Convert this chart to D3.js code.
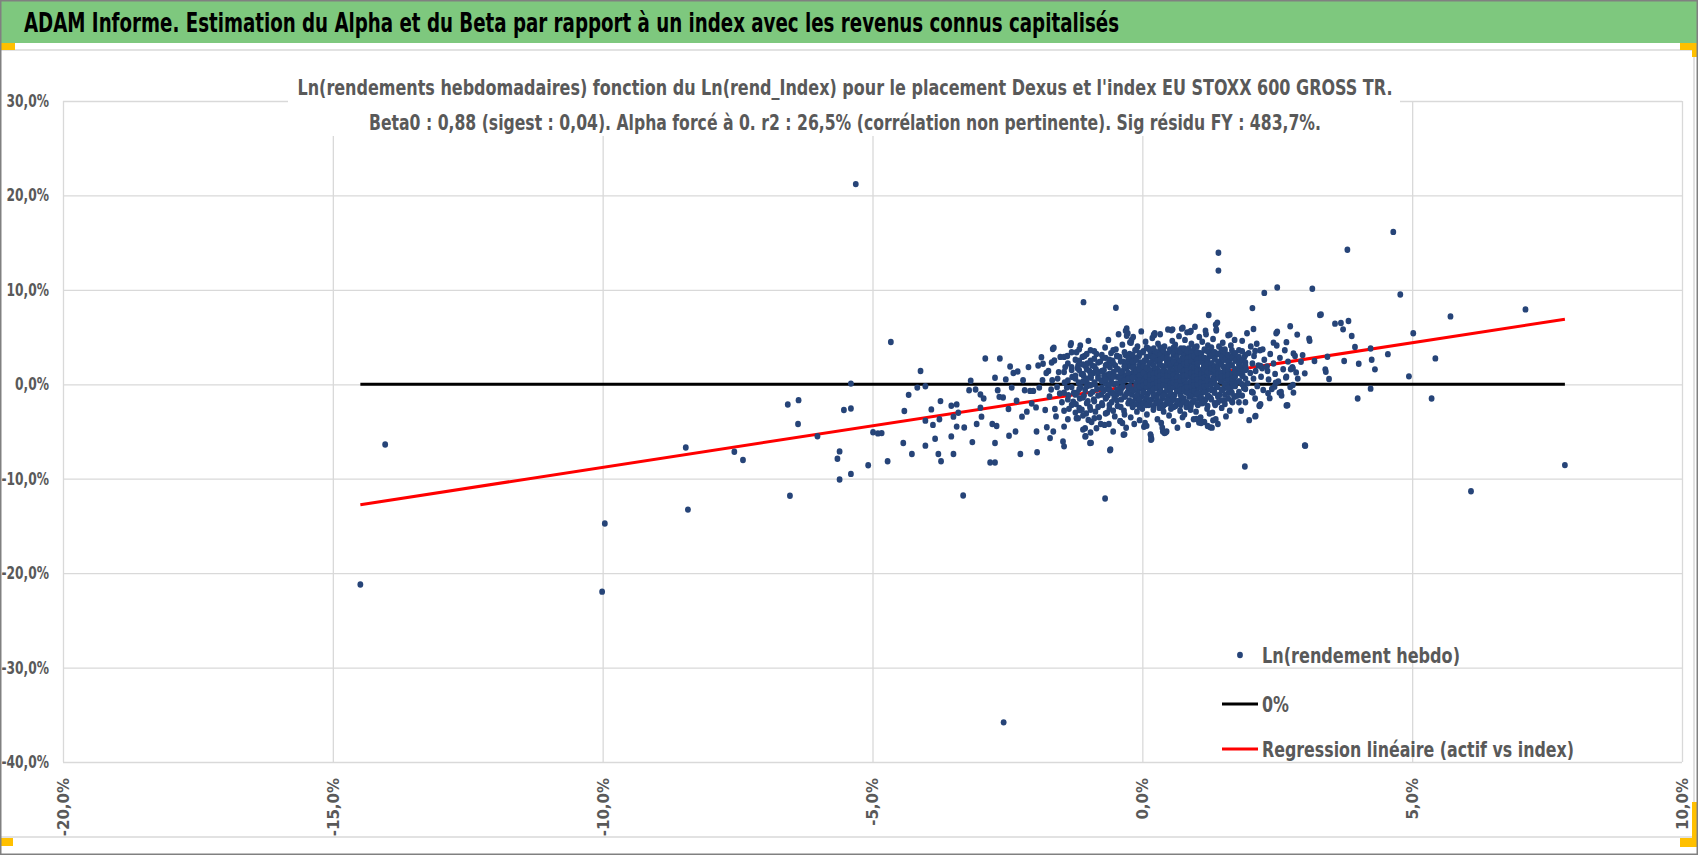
<!DOCTYPE html>
<html>
<head>
<meta charset="utf-8">
<script src="https://cdn.jsdelivr.net/npm/d3@7"></script>
<style>
  body { margin: 0; background: #fff; }
  svg { display: block; font-family: "DejaVu Sans Condensed", "Liberation Sans Narrow", sans-serif; }
</style>
</head>
<body>
<svg width="1698" height="855"></svg>
<script>
// textes
const mainTitle = "ADAM Informe. Estimation du Alpha et du Beta par rapport à un index avec les revenus connus capitalisés";
const chartTitle = [
  "Ln(rendements hebdomadaires) fonction du Ln(rend_Index) pour le placement Dexus et l'index EU STOXX 600 GROSS TR.",
  "Beta0 : 0,88 (sigest : 0,04). Alpha forcé à 0. r2 : 26,5% (corrélation non pertinente). Sig résidu FY : 483,7%."
];
const legendLabels = ["Ln(rendement hebdo)", "0%", "Regression linéaire (actif vs index)"];

// axes (en %)
const xTicks = [-20, -15, -10, -5, 0, 5, 10];
const yTicks = [30, 20, 10, 0, -10, -20, -30, -40];

// droites : 0% et regression (beta 0,88, alpha 0)
const zeroLine = [[-14.49, 0], [7.83, 0]];
const regressionLine = [[-14.49, -12.75], [7.83, 6.89]];

// points : [rend index %, rend placement %]
const leftTail = [
  [-14.49,-21.2],[-14.03,-6.37],[-10.01,-21.96],[-9.96,-14.75],[-8.46,-6.69],[-8.42,-13.27],[-7.56,-7.15],[-7.40,-8.02],
  [-6.57,-2.14],[-6.37,-1.68],[-6.38,-4.20],[-6.53,-11.8],[-6.02,-5.5],[-5.53,-2.73],[-5.40,-2.56],[-5.40,0.07],
  [-5.61,-7.11],[-5.65,-7.88],[-5.61,-10.09],[-5.40,-9.49],[-5.08,-8.58],[-4.99,-5.08],[-4.90,-5.20],[-4.83,-5.17],
  [-5.31,21.2],[-2.57,-35.8],
  [-4.66,4.48],[-4.72,-8.15],[-4.43,-6.22],[-4.41,-2.83],[-4.33,-1.12],[-4.27,-7.38],[-4.17,-0.35],[-4.11,1.40],
  [-4.02,-0.21],[-4.02,-6.50],[-4.02,-3.85],[-3.91,-2.66],[-3.88,-4.30],[-3.84,-5.77],[-3.78,-7.38],[-3.76,-3.71],
  [-3.74,-1.78],[-3.73,-8.15],[-3.54,-2.27],[-3.54,-5.52],[-3.50,-7.38],[-3.50,-3.43],[-3.44,-2.13],[-3.41,-3.01],
  [-3.44,-4.48],[-3.30,-4.58],[-3.32,-11.78],[-3.21,-0.63],[-3.18,0.38],[-3.15,-6.12],[-3.09,-0.56],[-3.07,-4.20],
  [-3.00,-1.08],[-3.00,-2.48],[-2.98,-3.43],[-2.94,-1.50],[-2.91,2.73],[-2.82,-8.29],[-2.73,-8.29],[-2.78,-4.20],
  [-2.70,-4.41],[-2.73,-6.22],[-2.73,0.70],[-2.68,-0.63],[-2.65,-1.33],[-2.64,2.73],[-2.58,-1.40],[-2.53,0.52],
  [-2.48,-2.62],[-2.47,-5.45],[-2.45,1.89],[-2.42,-0.35],[-2.39,1.19],[-2.35,-5.00],[-2.33,-1.75],[-2.31,1.36],
  [-2.26,-7.38],[-2.23,-3.43],[-2.21,0.42],[-2.18,-0.63],[-2.14,-2.90],[-2.11,1.82],[-2.08,-0.70],[-2.05,-2.03],
  [-2.02,-0.70],[-1.97,-2.45],[-1.96,-5.00],[-1.95,-7.20],[-1.93,1.99],[-1.91,-0.35],[-1.87,2.87],[-1.85,0.42],
  [-1.84,2.17],[-1.80,-2.73],[-1.77,-4.55],[-1.74,1.40],[-1.71,-5.70],[-1.69,-0.56],[-1.67,0.42],[-1.66,3.74],
  [-1.65,-5.00],[-1.63,2.52],[-1.62,-2.62],[-1.58,-0.28],[-1.55,1.29],[-1.53,-0.98],[-1.47,-6.05],[-1.45,-6.57],
  [-1.45,-4.48],[-1.43,1.82],[-1.40,-0.35],[-1.37,-1.15],[-1.33,4.16],[-1.30,0.77],[-1.28,-1.85],[-1.22,-3.60],
  [-1.19,1.99],[-1.16,-2.73],[-1.09,8.7],[-1.06,-4.65],[-1.06,-5.52],[-1.00,-3.78],[-0.97,-6.22],[-0.85,-4.65],
  [-0.60,-6.99],[-0.69,-12.1],[-0.49,8.1],[-0.35,-5.35],[-0.31,5.66],[-0.29,5.14],[-0.23,4.44],
  [-1.32,4.34],[-1.64,3.88],[-0.96,-5.1],[-1.05,-5.5],[-0.95,-6.2],[-0.77,-4.2],[-0.62,-4.2],[-0.59,-6.9],
  [-0.41,-3.9],[-0.37,-4.1],[-0.33,-5.3],[-0.29,5.9],[-0.27,5.4],[-0.2,4.7]
];

const core = [
  [-1.78,1.2],[-1.72,-1.3],[-1.68,2.3],[-1.6,-3.4],[-1.57,0.6],[-1.52,2.9],[-1.49,-1.9],[-1.44,0.2],[-1.39,3.0],[-1.36,-2.6],[-1.31,1.5],[-1.27,-0.9],
  [-1.24,0.6],[-1.23,-2.1],[-1.22,3.4],[-1.21,-0.9],[-1.2,1.7],[-1.19,-3.6],[-1.18,0.2],[-1.17,2.5],[-1.16,-1.5],[-1.15,4.1],
  [-1.14,-0.3],[-1.13,1.1],[-1.12,-2.7],[-1.11,2.9],[-1.1,-4.8],[-1.09,0.9],[-1.08,-1.2],[-1.07,3.0],[-1.06,-0.6],[-1.05,1.9],
  [-1.04,-3.1],[-1.03,0.3],[-1.02,2.2],[-1.01,-1.8],[-1.0,4.6],[-0.99,-0.1],[-0.98,1.4],[-0.97,-2.4],[-0.96,3.6],[-0.95,0.7],
  [-0.94,-4.0],[-0.93,2.0],[-0.92,-0.8],[-0.91,1.2],[-0.9,-1.6],[-0.89,2.7],[-0.88,0.0],[-0.87,-2.9],[-0.86,1.6],[-0.85,3.2],
  [-0.84,-0.5],[-0.82,0.9],[-0.8,-3.5],[-0.78,2.4],[-0.76,-1.1],
  [-0.75,0.4],[-0.74,-2.2],[-0.73,2.8],[-0.72,-0.7],[-0.71,1.5],[-0.7,-4.3],[-0.69,3.9],[-0.68,0.1],[-0.67,-1.4],[-0.66,2.1],
  [-0.65,-3.0],[-0.64,1.0],[-0.63,4.7],[-0.62,-0.3],[-0.61,-2.6],[-0.6,1.8],[-0.59,0.6],[-0.58,3.3],[-0.57,-1.9],[-0.56,-0.9],
  [-0.55,2.5],[-0.54,-5.0],[-0.53,1.3],[-0.52,0.0],[-0.51,-3.4],[-0.5,2.0],[-0.49,3.7],[-0.48,-1.1],[-0.47,0.8],[-0.46,-2.3],
  [-0.45,1.6],[-0.44,5.3],[-0.43,-0.5],[-0.42,2.9],[-0.41,-3.9],[-0.4,0.3],[-0.39,-1.6],[-0.38,1.1],[-0.37,4.2],[-0.36,-0.2],
  [-0.35,2.4],[-0.34,-2.8],[-0.33,0.9],[-0.32,-1.3],[-0.31,3.1],[-0.3,-4.6],[-0.29,1.7],[-0.28,0.5],[-0.27,-0.8],[-0.26,2.2],
  [-0.255,-2.0],[-0.71,0.9],[-0.66,-0.5],[-0.61,2.4],[-0.57,0.2],[-0.52,-1.5],[-0.47,3.0],[-0.42,0.7],[-0.38,-0.4],[-0.33,1.9],
  [-0.29,-1.0],[-0.64,-1.2],[-0.55,1.1],[-0.45,-0.9],[-0.36,1.4],
  [-0.25,0.8],[-0.24,-1.7],[-0.235,3.2],[-0.23,-0.2],[-0.22,1.9],[-0.215,-3.5],[-0.21,4.4],[-0.2,0.4],[-0.195,-1.1],[-0.19,2.6],
  [-0.18,-2.4],[-0.175,1.2],[-0.17,5.0],[-0.16,-0.6],[-0.155,2.1],[-0.15,-4.2],[-0.14,0.9],[-0.135,3.6],[-0.13,-1.5],[-0.12,1.6],
  [-0.115,-0.1],[-0.11,2.8],[-0.1,-2.9],[-0.095,0.5],[-0.09,4.0],[-0.08,-0.9],[-0.075,1.3],[-0.07,-2.0],[-0.06,3.0],[-0.055,0.1],
  [-0.05,-3.8],[-0.04,2.3],[-0.035,-0.4],[-0.03,1.0],[-0.02,5.6],[-0.015,-1.3],[-0.01,2.0],[0.0,-2.6],[0.005,0.7],[0.01,3.4],
  [0.02,-0.7],[0.025,1.5],[0.03,-4.5],[0.04,2.5],[0.045,0.2],[0.05,-1.8],[0.06,4.5],[0.065,1.1],[0.07,-0.3],[0.08,2.9],
  [0.085,-3.2],[0.09,0.6],[0.1,1.8],[0.105,-1.0],[0.11,3.8],[0.12,-2.2],[0.125,0.9],[0.13,2.2],[0.14,-0.5],[0.145,1.4],
  [0.15,-5.3],[0.16,3.1],[0.165,0.0],[0.17,-1.6],[0.18,2.4],[0.185,4.9],[0.19,-0.8],[0.2,1.2],[0.205,-2.7],[0.21,0.4],
  [0.22,3.5],[0.225,-1.2],[0.23,1.7],[0.24,-0.1],[0.245,2.7],
  [0.25,0.9],[0.255,-1.9],[0.26,3.0],[0.27,-0.3],[0.275,1.6],[0.28,-3.7],[0.29,4.3],[0.295,0.4],[0.3,-1.0],[0.31,2.2],
  [0.315,-2.5],[0.32,1.1],[0.33,5.3],[0.335,-0.6],[0.34,2.7],[0.35,-4.1],[0.355,0.8],[0.36,3.5],[0.37,-1.5],[0.375,1.9],
  [0.38,0.0],[0.39,2.9],[0.395,-2.9],[0.4,0.6],[0.41,4.0],[0.415,-0.9],[0.42,1.4],[0.43,-2.1],[0.435,3.2],[0.44,0.2],
  [0.45,-5.0],[0.455,2.4],[0.46,-0.4],[0.47,1.2],[0.475,5.8],[0.48,-1.3],[0.49,2.0],[0.495,-3.3],[0.5,0.7],[0.51,3.7],
  [0.515,-0.7],[0.52,1.6],[0.53,-2.6],[0.535,2.6],[0.54,0.3],[0.55,-1.7],[0.555,4.6],[0.56,1.0],[0.57,-0.2],[0.575,3.1],
  [0.58,-3.9],[0.59,0.5],[0.595,2.1],[0.6,-1.1],[0.61,4.2],[0.615,-2.3],[0.62,1.3],[0.63,2.5],[0.635,-0.5],[0.64,1.7],
  [0.65,-4.6],[0.655,3.3],[0.66,0.1],[0.67,-1.8],[0.675,2.3],[0.68,5.1],[0.69,-0.8],[0.695,1.5],[0.7,-2.8],[0.71,0.6],
  [0.715,3.8],[0.72,-1.4],[0.73,1.9],[0.735,0.0],[0.74,2.8],[0.745,-3.5],
  [0.75,1.1],[0.755,-1.6],[0.76,3.4],[0.77,-0.1],[0.775,2.0],[0.78,-3.2],[0.79,4.7],[0.795,0.6],[0.8,-0.8],[0.81,2.6],
  [0.815,-2.4],[0.82,1.3],[0.83,5.5],[0.835,-0.4],[0.84,3.0],[0.85,-4.3],[0.855,1.0],[0.86,3.8],[0.87,-1.3],[0.875,2.2],
  [0.88,0.2],[0.89,3.2],[0.895,-2.7],[0.9,0.8],[0.91,4.3],[0.915,-0.7],[0.92,1.6],[0.93,-1.9],[0.935,3.5],[0.94,0.4],
  [0.95,-3.7],[0.955,2.7],[0.96,-0.2],[0.97,1.4],[0.975,6.1],[0.98,-1.1],[0.99,2.3],[0.995,-2.9],[1.0,0.9],[1.01,4.0],
  [1.015,-0.5],[1.02,1.8],[1.03,-2.2],[1.035,2.9],[1.04,0.5],[1.05,-1.5],[1.055,5.0],[1.06,1.2],[1.07,0.0],[1.075,3.3],
  [1.08,-3.5],[1.09,0.7],[1.095,2.4],[1.1,-0.9],[1.11,4.5],[1.115,-2.0],[1.12,1.5],[1.13,2.8],[1.135,-0.3],[1.14,1.9],
  [1.15,-4.0],[1.155,3.6],[1.16,0.3],[1.17,-1.6],[1.175,2.5],[1.18,5.3],[1.19,-0.6],[1.195,1.7],[1.2,-2.6],[1.21,0.8],
  [1.215,4.1],[1.22,-1.2],[1.23,2.1],[1.235,0.1],[1.24,3.0],[1.245,-3.1],
  [1.25,1.3],[1.26,-1.4],[1.27,3.5],[1.28,0.1],[1.29,2.2],[1.3,-3.0],[1.31,4.8],[1.32,0.7],[1.33,-0.6],[1.34,2.8],
  [1.35,-2.2],[1.36,1.5],[1.37,5.7],[1.38,-0.2],[1.39,3.2],[1.4,-4.2],[1.41,1.1],[1.42,4.0],[1.43,-1.1],[1.44,2.4],
  [1.45,0.4],[1.46,3.4],[1.47,-2.5],[1.48,1.0],[1.49,4.4],[1.5,-0.5],[1.51,1.8],[1.52,-1.7],[1.53,3.7],[1.54,0.6],
  [1.55,-3.4],[1.56,2.9],[1.57,0.0],[1.58,1.6],[1.59,5.2],[1.6,-0.9],[1.61,2.5],[1.62,-2.8],[1.63,1.1],[1.64,4.1],
  [1.65,-0.3],[1.66,2.0],[1.67,-1.9],[1.68,3.1],[1.69,0.7],[1.7,-1.3],[1.71,4.7],[1.72,1.4],[1.73,0.2],[1.74,2.7],
  [1.76,1.5],[1.77,-1.2],[1.79,3.6],[1.8,0.3],[1.82,2.4],[1.83,-2.8],[1.85,4.6],[1.86,0.9],[1.88,-0.4],[1.89,2.9],
  [1.91,-1.9],[1.92,1.6],[1.94,5.4],[1.95,0.1],[1.97,3.3],[1.98,-3.8],[2.0,1.2],[2.01,4.0],[2.03,-0.8],[2.04,2.2],
  [2.06,0.6],[2.07,3.0],[2.09,-1.5],[2.1,1.4],[2.12,4.3],[2.13,-0.2],[2.15,2.0],[2.17,-2.3],[2.18,3.6],[2.2,0.8],
  [2.22,1.7],[2.24,-0.6],[2.26,2.6],
  [2.31,1.9],[2.34,0.5],[2.37,3.2],[2.4,-0.5],[2.43,2.2],[2.46,1.1],[2.49,4.1],[2.52,0.3],[2.55,2.8],[2.58,-1.2],
  [2.61,1.6],[2.64,3.6],[2.67,0.8],[2.7,2.4],[2.74,-0.3],[2.78,1.8],[2.83,3.0],[2.88,0.6]
];

// colonnes du noyau dense : [rend index %, [rend placement %...]]
const denseCols = [
  [-1.45,[-2.8,-0.9,1.3,2.9]], [-1.38,[-1.6,0.4,2.2,-3.7]], [-1.31,[-2.2,-0.3,1.8,3.4]], [-1.24,[-1.1,0.9,2.6,-3.0]],
  [-1.17,[-2.5,-0.5,1.5,3.7]], [-1.1,[-1.4,0.3,2.1,-3.3,1.1]], [-1.03,[-2.0,-0.2,1.6,3.2,0.6]], [-0.96,[-1.0,0.9,2.5,-2.7,-0.1]],
  [-0.89,[-1.8,0.2,1.9,3.5,-3.6]], [-0.82,[-1.2,0.6,2.3,-2.4,1.3]], [-0.75,[-2.0,-0.4,1.4,3.1,0.3]], [-0.68,[-1.5,0.5,2.0,-3.1,2.8]],
  [-0.61,[-2.2,-0.6,1.1,2.6,0.0]], [-0.54,[-1.0,0.8,2.2,3.6,-2.8]], [-0.47,[-1.7,0.1,1.6,3.0,-0.6]], [-0.4,[-2.4,-0.9,0.7,2.4,1.3]],
  [-0.33,[-1.3,0.4,1.9,3.4,-3.2]], [-0.26,[-2.0,-0.3,1.2,2.7,0.6]],
  [-0.18,[-1.9,-0.6,0.7,1.8,3.1,-2.3,2.4]], [-0.11,[-1.2,0.1,1.4,2.6,3.7,-2.1,-0.4]], [-0.05,[-1.6,-0.2,0.9,2.0,3.3,1.6,-2.4,0.4]],
  [0.02,[-2.0,-0.9,0.3,1.2,2.3,3.5,1.9,-0.1]], [0.08,[-1.4,-0.3,0.8,1.7,2.7,3.9,-2.2,0.2]], [0.14,[-1.8,-0.7,0.5,1.5,2.2,3.0,-0.1,1.0,3.6]],
  [0.21,[-2.3,-1.1,0.0,1.1,2.0,2.9,3.8,0.6,-0.5]], [0.27,[-1.5,-0.4,0.7,1.6,2.5,3.4,-2.0,1.2,0.2]], [0.33,[-1.9,-0.8,0.3,1.3,2.1,3.1,3.9,-0.2,0.9,2.6]],
  [0.39,[-1.2,-0.1,1.0,1.9,2.8,3.6,-2.3,0.5,1.5]], [0.46,[-1.7,-0.6,0.4,1.2,2.3,3.2,-0.2,0.9,2.0,2.8]], [0.52,[-2.1,-1.0,0.1,0.9,1.8,2.6,3.5,-0.4,1.4,2.2]],
  [0.58,[-1.4,-0.3,0.6,1.5,2.4,3.3,3.9,-2.4,1.0,0.2]], [0.64,[-1.8,-0.7,0.2,1.2,2.0,2.9,-0.1,1.7,3.6,0.8]], [0.71,[-2.2,-1.1,-0.2,0.8,1.6,2.5,3.4,0.4,1.9,-0.6]],
  [0.77,[-1.5,-0.5,0.5,1.4,2.2,3.0,3.8,0.9,-1.9,2.7]], [0.83,[-1.9,-0.9,0.1,1.0,1.9,2.7,3.5,-0.3,1.5,2.3]], [0.9,[-1.3,-0.2,0.7,1.6,2.5,3.3,-2.3,0.3,1.2,2.9]],
  [0.96,[-1.7,-0.7,0.3,1.2,2.1,3.0,3.9,-0.1,0.8,1.8]], [1.02,[-2.1,-1.0,0.0,0.9,1.7,2.6,3.4,0.5,1.4,2.2]], [1.09,[-1.4,-0.4,0.6,1.5,2.4,3.2,-2.0,0.2,1.1,2.8]],
  [1.15,[-1.8,-0.8,0.2,1.1,2.0,2.8,3.7,0.7,1.6,-0.2]], [1.21,[-1.2,-0.1,0.9,1.8,2.6,3.5,-2.3,0.4,1.3,2.2]], [1.28,[-1.6,-0.6,0.4,1.3,2.2,3.0,3.9,0.0,1.7]],
  [1.34,[-2.0,-0.9,0.1,1.0,1.9,2.7,3.4,0.6,1.5]], [1.4,[-1.3,-0.3,0.7,1.6,2.4,3.2,-1.9,1.1,2.0]], [1.47,[-1.7,-0.6,0.3,1.2,2.1,2.9,3.7,0.8]],
  [1.53,[-1.1,0.0,0.9,1.8,2.6,3.4,-2.1,1.4]], [1.59,[-1.5,-0.4,0.5,1.4,2.3,3.1,1.0,1.9]], [1.66,[-0.9,0.2,1.1,2.0,2.8,3.6,0.6,-1.8]],
  [1.72,[-1.3,-0.2,0.8,1.6,2.5,3.3,1.3]], [1.79,[-0.8,0.3,1.2,2.1,2.9,1.7,-1.9]], [1.85,[-1.2,0.0,0.9,1.8,2.6,3.5,1.4]],
  [1.91,[-0.5,0.6,1.5,2.3,3.1,2.0]]
];

const rightTail = [
  [1.41,13.93],[1.41,12.04],[3.80,14.25],[4.65,16.14],[4.78,9.51],[3.15,10.11],[2.50,10.25],[2.26,9.68],[2.04,8.07],
  [1.23,7.33],[3.29,7.33],[3.57,6.42],[3.68,6.49],[3.82,6.70],[3.72,5.82],[3.88,5.12],[3.94,3.96],[4.23,3.79],[4.55,3.19],
  [5.02,5.40],[5.71,7.19],[7.10,7.93],[5.43,2.74],[4.25,2.60],[4.31,1.58],[4.01,2.18],[3.74,2.46],[3.43,2.91],[3.39,1.58],
  [3.40,1.33],[3.46,0.56],[3.19,2.46],[3.09,4.84],[3.10,4.6],[3.01,1.16],[4.23,-0.46],[3.99,-1.51],[4.94,0.84],[5.36,-1.51],
  [3.01,-6.49],[1.90,-8.70],[6.09,-11.33],[7.83,-8.56],[2.87,5.26],[2.74,6.14],[2.48,5.40],[2.67,4.46],[2.80,3.26],
  [2.97,3.09],[2.94,2.39],[2.79,1.68],[2.85,1.26],[2.79,-0.07],[2.80,-0.88],[2.67,-2.25],[2.54,-0.88],[2.45,-0.25],
  [2.36,-1.47],[2.33,-0.95],[2.17,-2.25],[2.09,-3.40],[2.05,-0.88],[2.06,5.86],[1.62,5.26],[1.36,6.32],[1.17,5.68],
  [0.88,5.54],[0.73,5.89],[0.54,5.72],[0.21,5.26],[1.26,-4.56],[1.31,-3.82],[1.09,-4.1],[1.07,-3.75],[1.00,-3.68],
  [0.41,-5.16],[0.38,-5.0],[0.16,-5.5],[0.05,-4.1],[0.08,-4.4],[0.17,-5.8],[0.37,-4.6],[0.22,5.2],[0.16,-5.87],[0.23,5.4],
  [2.09,3.53],[2.23,3.70],[2.19,1.94],[2.32,1.41],[2.47,0.18],[2.57,-0.81],[2.66,0.71],[2.75,1.59],[2.69,-2.22],
  [2.43,4.41],[2.50,5.57],[2.10,-3.35],[2.19,-2.12],[2.03,-0.81],[1.39,6.53],[1.37,5.82],[0.56,5.82],[0.75,6.0],
  [0.90,5.64],[1.21,-4.41],[1.36,-3.70],[1.29,-4.59],[1.05,-4.06],[0.43,-5.11],[3.31,7.39],[3.02,-6.5]
];

const points = leftTail
  .concat(core, rightTail)
  .concat(denseCols.flatMap(c => c[1].map(v => [c[0], v])));

// mise en page
const W = 1698, H = 855;
const plot = { left: 63, right: 1682, top: 101, bottom: 762 };
const grey = "#595959";

const svg = d3.select("svg");
const fr = d3.formatLocale({ decimal: ",", thousands: " ", grouping: [3], currency: ["", " €"], minus: "-" });
const pct = d => fr.format(".1f")(d) + "%";

const x = d3.scaleLinear().domain([-20, 10]).range([plot.left, plot.right]);
const y = d3.scaleLinear().domain([-40, 30]).range([plot.bottom, plot.top]);

// resserre un texte (police etroite type Calibri)
function narrow(sel, k) {
  sel.each(function () {
    const w = this.getComputedTextLength();
    d3.select(this).attr("textLength", w * k).attr("lengthAdjust", "spacingAndGlyphs");
  });
}

// fond + bandeau vert
svg.append("rect").attr("width", W).attr("height", H).attr("fill", "#fff");
svg.append("rect").attr("x", 0).attr("y", 0).attr("width", W).attr("height", 43).attr("fill", "#7ec87e");
svg.append("text")
    .attr("x", 24).attr("y", 32)
    .attr("font-size", 27).attr("font-weight", "bold").attr("fill", "#000")
    .attr("textLength", 1095).attr("lengthAdjust", "spacingAndGlyphs")
    .text(mainTitle);

// cadre du graphique
svg.append("path")
    .attr("d", `M0,50 H1694 V837 H0`)
    .attr("fill", "none").attr("stroke", "#d9d9d9").attr("stroke-width", 1.5);

// grille horizontale + etiquettes Y
const yAxis = svg.append("g")
    .attr("transform", `translate(${plot.left},0)`)
    .call(d3.axisLeft(y).tickValues(yTicks).tickSize(-(plot.right - plot.left)).tickPadding(14).tickFormat(pct));
yAxis.select(".domain").remove();
yAxis.selectAll("line").attr("stroke", "#d9d9d9").attr("stroke-width", 1.3);
yAxis.selectAll("text")
    .attr("fill", grey).attr("font-size", 17).attr("font-weight", "bold")
    .attr("font-family", "'DejaVu Sans Condensed',sans-serif")
    .call(narrow, 0.8);

// grille verticale + etiquettes X (tournees)
const xAxis = svg.append("g")
    .attr("transform", `translate(0,${plot.bottom})`)
    .call(d3.axisBottom(x).tickValues(xTicks).tickSize(-(plot.bottom - plot.top)).tickFormat(pct));
xAxis.select(".domain").remove();
xAxis.selectAll("line").attr("stroke", "#d9d9d9").attr("stroke-width", 1.3);
xAxis.selectAll("text")
    .attr("transform", "rotate(-90)")
    .attr("x", -16).attr("y", 0).attr("dy", "0.36em")
    .style("text-anchor", "end")
    .attr("fill", grey).attr("font-size", 15).attr("font-weight", "bold")
    .attr("font-family", "'DejaVu Sans',sans-serif");

// titre du graphique (fond blanc)
svg.append("rect").attr("x", 288).attr("y", 70).attr("width", 1112).attr("height", 66).attr("fill", "#fff");
const titleLengths = [1095, 952];
svg.selectAll(".ctitle")
    .data(chartTitle)
    .enter()
    .append("text")
    .attr("class", "ctitle")
    .attr("x", 845)
    .attr("y", (d, i) => 88 + i * 35)
    .attr("dy", "0.35em")
    .attr("text-anchor", "middle")
    .attr("font-size", 21).attr("font-weight", "bold").attr("fill", grey)
    .attr("textLength", (d, i) => titleLengths[i]).attr("lengthAdjust", "spacingAndGlyphs")
    .text(d => d);

// droites
const line = d3.line().x(d => x(d[0])).y(d => y(d[1]));
svg.append("path").datum(zeroLine).attr("d", line)
    .attr("fill", "none").attr("stroke", "#000").attr("stroke-width", 3);
svg.append("path").datum(regressionLine).attr("d", line)
    .attr("fill", "none").attr("stroke", "#ff0000").attr("stroke-width", 3);

// nuage de points
svg.append("g")
    .selectAll("ellipse")
    .data(points)
    .enter()
    .append("ellipse")
    .attr("cx", d => x(d[0]))
    .attr("cy", d => y(d[1]))
    .attr("rx", 2.9).attr("ry", 3.2)
    .attr("fill", "#264478");

// legende
const leg = svg.append("g").attr("font-size", 22).attr("font-weight", "bold").attr("fill", grey);
leg.append("ellipse").attr("cx", 1240).attr("cy", 655).attr("rx", 2.9).attr("ry", 3.2).attr("fill", "#264478");
leg.append("line").attr("x1", 1222).attr("x2", 1258).attr("y1", 704).attr("y2", 704)
    .attr("stroke", "#000").attr("stroke-width", 3);
leg.append("line").attr("x1", 1222).attr("x2", 1258).attr("y1", 749).attr("y2", 749)
    .attr("stroke", "#ff0000").attr("stroke-width", 3);
const legY = [655, 704, 749];
const legLen = [198, 27, 312];
leg.selectAll("text")
    .data(legendLabels)
    .enter()
    .append("text")
    .attr("x", 1262)
    .attr("y", (d, i) => legY[i])
    .attr("dy", "0.35em")
    .attr("textLength", (d, i) => legLen[i]).attr("lengthAdjust", "spacingAndGlyphs")
    .text(d => d);

// poignees de selection (orange)
const handles = [[0, 43, 15, 7], [1680, 43, 17, 7], [1692, 43, 5, 14], [0, 838, 13, 8], [1692, 802, 5, 45], [1680, 838, 17, 9]];
svg.selectAll(".handle")
    .data(handles)
    .enter()
    .append("rect")
    .attr("class", "handle")
    .attr("x", d => d[0]).attr("y", d => d[1])
    .attr("width", d => d[2]).attr("height", d => d[3])
    .attr("fill", "#ffc000");

// bordure exterieure
svg.append("rect").attr("x", 0.75).attr("y", 0.75).attr("width", W - 1.5).attr("height", H - 1.5)
    .attr("fill", "none").attr("stroke", "#808080").attr("stroke-width", 1.5);
</script>
</body>
</html>
